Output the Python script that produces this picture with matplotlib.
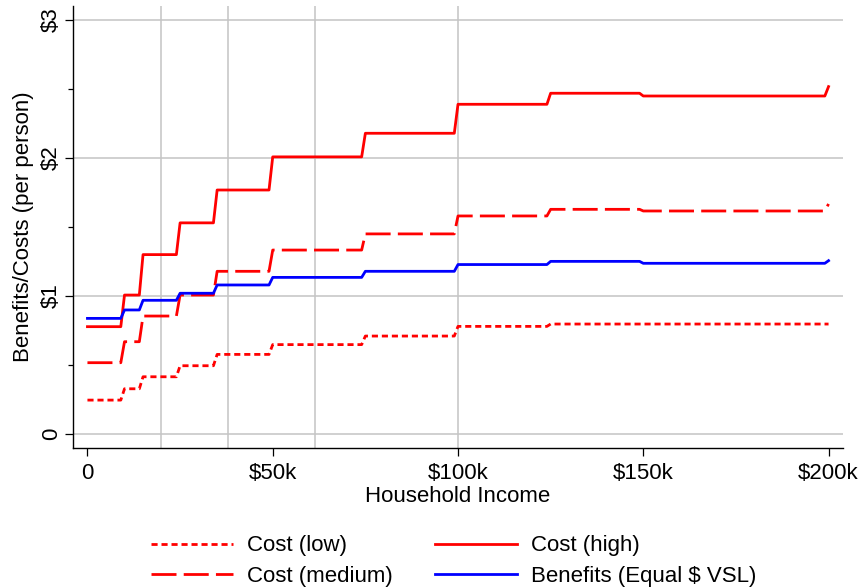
import numpy as np
import matplotlib
matplotlib.use("Agg")
import matplotlib.pyplot as plt
from matplotlib.ticker import MultipleLocator

plt.rcParams['font.family'] = ['Liberation Sans', 'DejaVu Sans']

# Income brackets (lower bounds, $k) and per-person values per bracket
bracket_lo = [0, 10, 15, 25, 35, 50, 75, 100, 125, 150, 200]
cost_low = [0.246, 0.328, 0.415, 0.495, 0.577, 0.648, 0.710, 0.780, 0.797, 0.797, 0.797]
cost_medium = [0.517, 0.669, 0.855, 1.007, 1.179, 1.333, 1.450, 1.580, 1.628, 1.616, 1.667]
cost_high = [0.778, 1.007, 1.300, 1.530, 1.768, 2.008, 2.179, 2.389, 2.469, 2.449, 2.517]
benefits = [0.838, 0.899, 0.969, 1.020, 1.080, 1.135, 1.179, 1.228, 1.251, 1.237, 1.256]

quantile_lines = [19.8, 37.8, 61.4, 100.0]
x_ticks = [0, 50, 100, 150, 200]
x_ticklabels = ["0", "$50k", "$100k", "$150k", "$200k"]
y_ticks = [0, 1, 2, 3]
y_ticklabels = ["0", "$1", "$2", "$3"]

income = np.arange(0, 201, 1)
idx = np.searchsorted(bracket_lo, income, side='right') - 1

def series(vals):
    return np.asarray(vals)[idx]

fs = 16
fig = plt.figure(figsize=(8.62, 5.88), dpi=100)
ax = fig.add_axes([73/862, 140/588, (843-73)/862, (582-140)/588])

grid_col = '#c4c4c4'
for q in quantile_lines:
    ax.axvline(q, color=grid_col, lw=1.1, zorder=1)
for yv in y_ticks:
    ax.axhline(yv, color=grid_col, lw=1.1, zorder=1)

lw = 2.0
l_low, = ax.plot(income, series(cost_low), color='#ff0000', lw=lw, dashes=(2.2, 1.4), label='Cost (low)', zorder=3)
l_med, = ax.plot(income, series(cost_medium), color='#ff0000', lw=lw, dashes=(9, 2.6), label='Cost (medium)', zorder=3)
l_high, = ax.plot(income, series(cost_high), color='#ff0000', lw=lw, label='Cost (high)', zorder=3)
l_ben, = ax.plot(income, series(benefits), color='#0000ff', lw=lw, label='Benefits (Equal $ VSL)', zorder=4)

ax.set_xlim(-3.9, 203.9)
ax.set_ylim(-0.101, 3.101)
ax.spines['top'].set_visible(False)
ax.spines['right'].set_visible(False)
ax.spines['left'].set_linewidth(1.0)
ax.spines['bottom'].set_linewidth(1.0)

ax.set_xticks(x_ticks)
ax.set_xticklabels(x_ticklabels)
ax.set_yticks(y_ticks)
ax.set_yticklabels(y_ticklabels, rotation=90, va='center')
ax.yaxis.set_minor_locator(MultipleLocator(0.5))
ax.tick_params(axis='both', which='major', labelsize=fs, length=5.5, width=0.9)
ax.tick_params(axis='x', which='major', pad=5)
ax.tick_params(axis='y', which='major', pad=2.5)
ax.tick_params(axis='y', which='minor', length=3.5, width=0.9)
ax.tick_params(axis='x', which='minor', bottom=False)

ax.set_xlabel('Household Income', fontsize=fs, labelpad=2)
ax.set_ylabel('Benefits/Costs (per person)', fontsize=fs, labelpad=5)

fig.legend(handles=[l_low, l_med, l_high, l_ben], ncol=2, frameon=False,
           loc='center', bbox_to_anchor=(0.526, 0.046), fontsize=fs,
           handlelength=3.7, handletextpad=0.63, columnspacing=1.9, labelspacing=0.42)

fig.savefig('out.png', dpi=100)
